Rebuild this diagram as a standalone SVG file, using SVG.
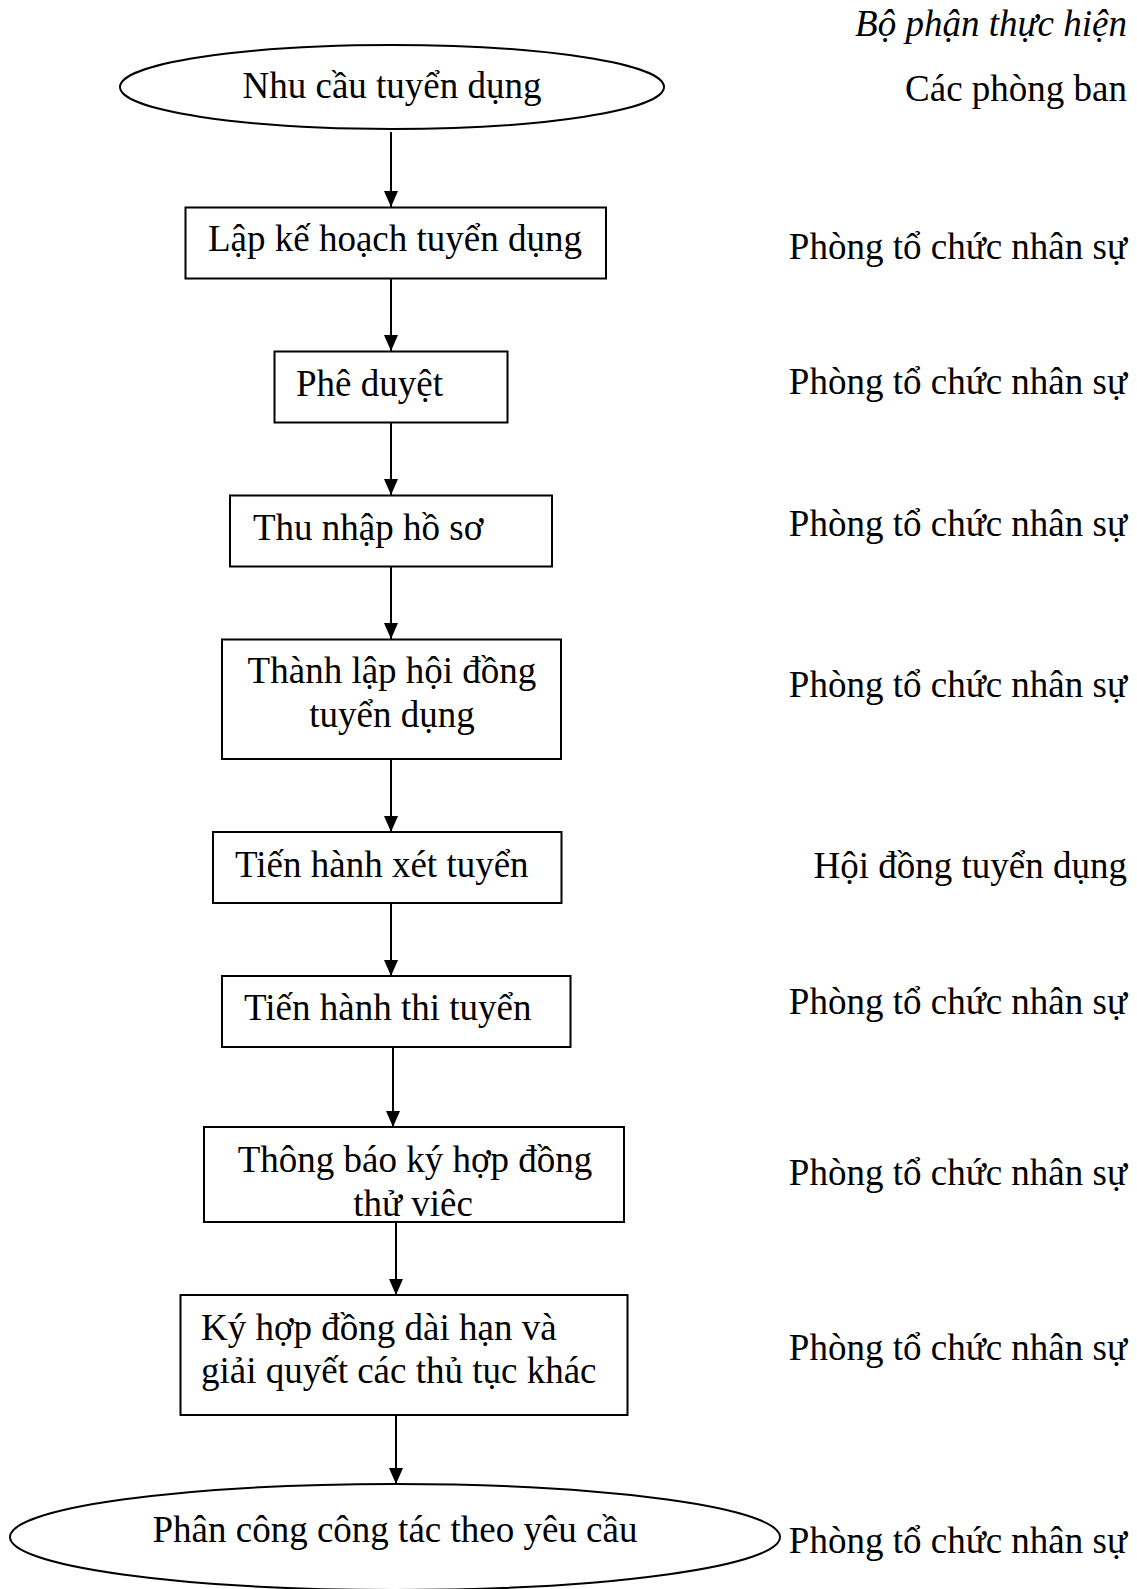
<svg xmlns="http://www.w3.org/2000/svg" width="1137" height="1589" viewBox="0 0 1137 1589">
<style>
text{font-family:"Liberation Serif","Times New Roman",serif;font-size:37px;fill:#000}
.r{text-anchor:end}
.c{text-anchor:middle}
.it{font-style:italic}
.box{fill:#fff;stroke:#000;stroke-width:2}
.con{stroke:#000;stroke-width:2;fill:none;marker-end:url(#ah)}
</style>
<defs>
<marker id="ah" markerWidth="16" markerHeight="14" refX="16" refY="7" orient="auto" markerUnits="userSpaceOnUse" viewBox="0 0 16 14">
<path d="M0,0 L16,7 L0,14 Z" fill="#000"/>
</marker>
<clipPath id="clip7"><rect x="205" y="1128" width="418" height="93"/></clipPath>
</defs>
<g id="labels">
<text class="r it" x="1127" y="36">Bộ phận thực hiện</text>
<text class="r" x="1127" y="101">Các phòng ban</text>
<text class="r" x="1127" y="259">Phòng tổ chức nhân sự</text>
<text class="r" x="1127" y="394">Phòng tổ chức nhân sự</text>
<text class="r" x="1127" y="536">Phòng tổ chức nhân sự</text>
<text class="r" x="1127" y="697">Phòng tổ chức nhân sự</text>
<text class="r" x="1127" y="878">Hội đồng tuyển dụng</text>
<text class="r" x="1127" y="1014">Phòng tổ chức nhân sự</text>
<text class="r" x="1127" y="1185">Phòng tổ chức nhân sự</text>
<text class="r" x="1127" y="1360">Phòng tổ chức nhân sự</text>
<text class="r" x="1127" y="1553">Phòng tổ chức nhân sự</text>
</g>
<g id="connectors">
<line class="con" x1="391" y1="132" x2="391" y2="207"/>
<line class="con" x1="391" y1="279" x2="391" y2="351"/>
<line class="con" x1="391" y1="423" x2="391" y2="495"/>
<line class="con" x1="391" y1="567" x2="391" y2="639"/>
<line class="con" x1="391" y1="759" x2="391" y2="832"/>
<line class="con" x1="391" y1="903" x2="391" y2="976"/>
<line class="con" x1="393" y1="1047" x2="393" y2="1127"/>
<line class="con" x1="396" y1="1222" x2="396" y2="1295"/>
<line class="con" x1="396" y1="1415" x2="396" y2="1484"/>
</g>
<g id="n1">
<ellipse class="box" cx="392" cy="87" rx="272" ry="42"/>
<text class="c" x="392" y="98">Nhu cầu tuyển dụng</text>
</g>
<g id="n2">
<rect class="box" x="185.5" y="207.5" width="420.5" height="71"/>
<text class="c" x="395" y="251">Lập kế hoạch tuyển dụng</text>
</g>
<g id="n3">
<rect class="box" x="274.5" y="351.5" width="233" height="71"/>
<text x="296" y="396">Phê duyệt</text>
</g>
<g id="n4">
<rect class="box" x="230" y="495.5" width="322" height="71"/>
<text x="253" y="540">Thu nhập hồ sơ</text>
</g>
<g id="n5">
<rect class="box" x="222" y="639.5" width="339" height="119.5"/>
<text class="c" x="392" y="683">Thành lập hội đồng</text>
<text class="c" x="392" y="727">tuyển dụng</text>
</g>
<g id="n6">
<rect class="box" x="213" y="832" width="348.5" height="71"/>
<text x="235" y="877">Tiến hành xét tuyển</text>
</g>
<g id="n7">
<rect class="box" x="222" y="976" width="348.5" height="71"/>
<text x="244" y="1020">Tiến hành thi tuyển</text>
</g>
<g id="n8">
<rect class="box" x="204" y="1127" width="420" height="95"/>
<text class="c" x="415" y="1172">Thông báo ký hợp đồng</text>
<text class="c" x="413" y="1216" clip-path="url(#clip7)">thử viêc</text>
</g>
<g id="n9">
<rect class="box" x="180.5" y="1295" width="447" height="120"/>
<text x="201" y="1340">Ký hợp đồng dài hạn và</text>
<text x="201" y="1383">giải quyết các thủ tục khác</text>
</g>
<g id="n10">
<ellipse class="box" cx="395" cy="1537" rx="385" ry="53"/>
<text class="c" x="395" y="1542">Phân công công tác theo yêu cầu</text>
</g>
</svg>
